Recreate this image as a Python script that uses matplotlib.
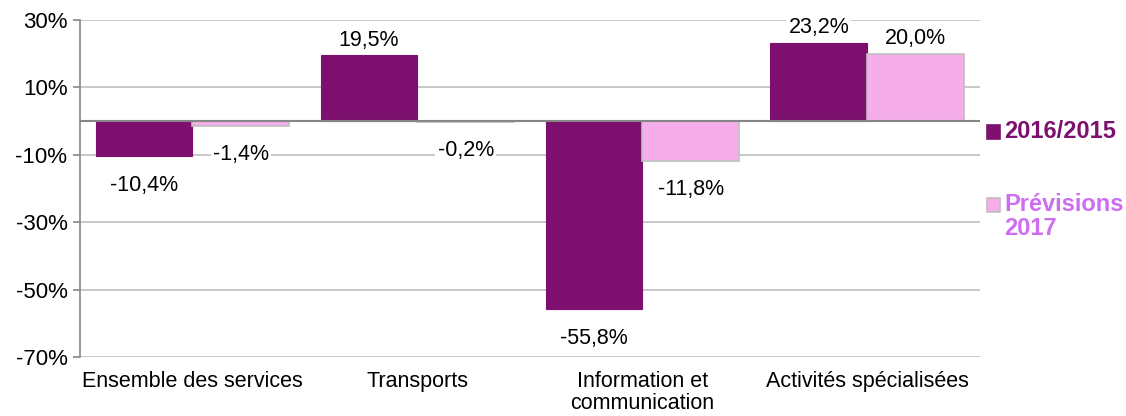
import numpy as np
import matplotlib.pyplot as plt
from matplotlib.patches import Rectangle

plt.rcParams['font.family'] = ['Liberation Sans', 'DejaVu Sans']

categories = ['Ensemble des services', 'Transports',
              'Information et\ncommunication', 'Activités spécialisées']
evol_2016 = [-10.4, 19.5, -55.8, 23.2]
prev_2017 = [-1.4, -0.2, -11.8, 20.0]
series_names = ['2016/2015', 'Prévisions\n2017']

purple = '#7d106f'
pink = '#f5aeea'
pink_text = '#cc6df2'
grid_grey = '#bfbfbf'

W, H = 1126, 416
fig = plt.figure(figsize=(W / 100, H / 100), dpi=100)
ax = fig.add_axes([0.071, 0.142, 0.799, 0.810])

x = np.arange(len(categories))
w = 0.43

b1 = ax.bar(x - w / 2, evol_2016, w, color=purple, edgecolor=purple,
            linewidth=0.8, zorder=2)
b2 = ax.bar(x + w / 2, prev_2017, w, color=pink, edgecolor=grid_grey,
            linewidth=1.2, zorder=2)

ax.set_xlim(-0.5, len(categories) - 0.5)
ax.set_ylim(-70, 30)
ax.set_yticks(np.arange(-70, 31, 20))
ax.set_yticklabels([f'{v}%' for v in range(-70, 31, 20)])

for v in range(-70, 31, 20):
    ax.axhline(v, color=grid_grey, linewidth=1.2, zorder=0)
ax.axhline(0, color='#868686', linewidth=1.5, zorder=3)

for s in ['top', 'right', 'bottom']:
    ax.spines[s].set_visible(False)
ax.spines['left'].set_color('#868686')
ax.spines['left'].set_linewidth(1.2)

ax.tick_params(axis='y', length=5, width=1.2, color='#868686',
               labelsize=16, pad=4)
ax.tick_params(axis='x', length=0, labelsize=15.5, pad=10)
ax.set_xticks(x)
ax.set_xticklabels(categories, linespacing=1.1)


def fmt(v):
    return f'{v:.1f}%'.replace('.', ',')


for bars, vals in [(b1, evol_2016), (b2, prev_2017)]:
    for bar, v in zip(bars, vals):
        cx = bar.get_x() + bar.get_width() / 2
        dy = 11 if v >= 0 else -21
        ax.annotate(fmt(v), (cx, v), xytext=(0, dy), textcoords='offset points',
                    ha='center', va='center', fontsize=15.5, zorder=4,
                    bbox=dict(facecolor='white', edgecolor='none', pad=1.5))

# legend on the right: square key + bold coloured label
keys = [(purple, purple, 132), (pink, grid_grey, 205)]
for (fc, ec, yc), name, tc in zip(keys, series_names, [purple, pink_text]):
    fig.add_artist(Rectangle((987 / W, 1 - (yc + 7) / H), 13 / W, 14 / H,
                             facecolor=fc, edgecolor=ec, linewidth=1.2,
                             transform=fig.transFigure))
    fig.text(1004 / W, 1 - (yc - 12) / H, name, color=tc, fontsize=17,
             fontweight='bold', ha='left', va='top', linespacing=1.05)

fig.savefig('out.png', dpi=100)
